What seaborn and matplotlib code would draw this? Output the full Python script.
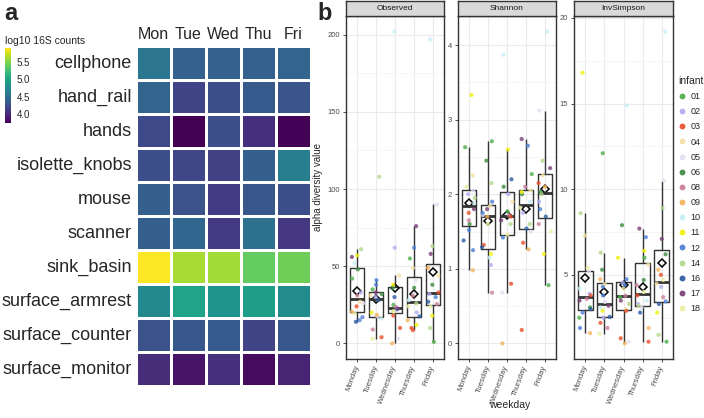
import numpy as np
import pandas as pd
import matplotlib.pyplot as plt
import seaborn as sns
from matplotlib.lines import Line2D
from matplotlib.ticker import AutoMinorLocator

W, H = 704, 418

# panel a: log10 16S counts per surface and weekday
days_short = ["Mon", "Tue", "Wed", "Thu", "Fri"]
surfaces = ["cellphone", "hand_rail", "hands", "isolette_knobs", "mouse",
            "scanner", "sink_basin", "surface_armrest", "surface_counter",
            "surface_monitor"]
log_counts = [
    [4.58, 4.41, 4.41, 4.41, 4.43],
    [4.43, 4.18, 4.26, 4.35, 4.31],
    [4.22, 3.75, 4.26, 4.05, 3.76],
    [4.26, 4.20, 4.16, 4.39, 4.65],
    [4.39, 4.29, 4.11, 4.33, 4.26],
    [4.39, 4.46, 4.11, 4.54, 4.09],
    [5.89, 5.61, 5.59, 5.38, 5.42],
    [4.76, 4.99, 4.86, 4.93, 4.78],
    [4.29, 4.33, 4.35, 4.18, 4.33],
    [4.01, 3.86, 4.05, 3.81, 3.96],
]

# panel b: alpha diversity per sample (infant order + one extra sample per day)
weekdays = ["Monday", "Tuesday", "Wednesday", "Thursday", "Friday"]
infants = ["01", "02", "03", "04", "05", "06", "08", "09", "10", "11",
           "12", "14", "16", "17", "18"]
extra_infant = ["12", "12", "03", "03", "14"]
infant_colors = ["#4daf4a", "#b3acf2", "#e8502a", "#f5e0a3", "#e4def2",
                 "#3d8c40", "#c97d9a", "#f3b45c", "#c6eef4", "#f2f20c",
                 "#4d7fd6", "#b3d68a", "#2c5ba3", "#7a3f78", "#ecefa2"]

observed = {
    "Monday":    [42, 33, 24, 27, 26, 48, 31, 20.5, 52, 57, 15, 61, 14, 56, 19.5, 17],
    "Tuesday":   [35, 30, 4, 31, 17.5, 32, 9, 18.5, 16, 20, 41, 108, 28, 33, 3, 38],
    "Wednesday": [25, 62, 18, 44, 3, 36, 23.5, 0, 202, 38, 22, 21, 30, 22.5, 20.5, 10],
    "Thursday":  [55, 20, 8.6, 49, 41, 36, 31, 15, 28, 12, 62, 26, 17.5, 76, 24, 10],
    "Friday":    [1, 32, 33, 44, 90, 38, 25.5, 49, 197, 18, 30, 63, 27, 58, 24, 10],
}
shannon = {
    "Monday":    [2.63, 2.0, 1.75, 2.25, 2.05, 1.6, 1.65, 0.98, 1.88, 3.33, 1.25, 1.95, 1.38, 1.8, 2.1, 1.52],
    "Tuesday":   [2.71, 1.05, 1.32, 1.84, 1.72, 2.45, 0.68, 1.7, 1.15, 1.2, 1.9, 2.15, 1.29, 1.8, 1.6, 1.75],
    "Wednesday": [1.77, 2.0, 0.8, 1.9, 0.68, 2.1, 1.72, 0.0, 3.87, 2.6, 1.42, 1.6, 2.2, 1.65, 1.46, 1.7],
    "Thursday":  [2.27, 1.75, 0.18, 2.05, 1.5, 2.0, 2.1, 1.26, 1.9, 2.03, 2.65, 1.6, 1.54, 2.74, 1.82, 1.35],
    "Friday":    [0.78, 1.9, 2.15, 2.25, 3.12, 2.03, 1.6, 2.1, 4.18, 1.2, 1.8, 2.45, 1.7, 2.35, 1.5, 2.0],
}
invsimpson = {
    "Monday":    [2.5, 3.9, 3.8, 7.3, 5.2, 3.1, 3.6, 1.6, 4.2, 16.8, 2.8, 8.6, 3.0, 3.5, 5.4, 1.9],
    "Tuesday":   [12.1, 2.5, 2.2, 4.45, 3.42, 5.3, 1.9, 4.75, 3.1, 2.9, 3.8, 6.3, 2.55, 3.2, 1.57, 4.3],
    "Wednesday": [3.7, 4.55, 1.3, 4.2, 1.1, 7.9, 3.78, 1.0, 14.9, 6.0, 4.75, 3.3, 4.4, 3.5, 3.0, 2.9],
    "Thursday":  [6.0, 3.3, 1.1, 5.6, 3.1, 4.7, 4.4, 1.9, 3.5, 6.4, 7.2, 3.2, 2.8, 7.7, 4.0, 3.8],
    "Friday":    [1.1, 4.3, 5.0, 4.5, 10.5, 6.2, 3.7, 5.3, 19.2, 2.8, 3.45, 8.9, 3.3, 7.1, 4.7, 1.5],
}
metrics = ["Observed", "Shannon", "InvSimpson"]
metric_ticks = [[0, 50, 100, 150, 200], [0, 1, 2, 3, 4], [5, 10, 15, 20]]
metric_x = [(346, 444), (458, 556), (574, 673)]

sns.set_style("white")
plt.rcParams["font.family"] = ["Liberation Sans", "DejaVu Sans"]

fig = plt.figure(figsize=(W / 100, H / 100), dpi=100)


def px(x0, y0, x1, y1):
    """pixel box -> figure fraction rect"""
    return [x0 / W, 1 - y1 / H, (x1 - x0) / W, (y1 - y0) / H]


# ---------------- panel a
heat = pd.DataFrame(log_counts, index=surfaces, columns=days_short)
ax_h = fig.add_axes(px(136, 46, 311, 386))
cax = fig.add_axes(px(5, 48, 11, 123))
sns.heatmap(heat, ax=ax_h, cbar_ax=cax, cmap="viridis", vmin=3.75, vmax=5.89,
            linewidths=0.8, linecolor="white")
ax_h.xaxis.tick_top()
ax_h.tick_params(length=0, pad=3)
ax_h.set_xticklabels(days_short, fontsize=11.5, rotation=0)
ax_h.set_yticklabels(surfaces, fontsize=13, rotation=0)
ax_h.set_xlabel("")
ax_h.set_ylabel("")

cax.set_yticks([4.0, 4.5, 5.0, 5.5])
cax.set_yticklabels(["4.0", "4.5", "5.0", "5.5"])
cax.tick_params(direction="in", color="white", length=2, width=0.8,
                labelsize=7, pad=4)
ax_h.collections[0].colorbar.outline.set_visible(False)
fig.text(5 / W, 1 - 41 / H, "log10 16S counts", fontsize=7.5, va="center")
fig.text(4 / W, 1 - 14 / H, "a", fontsize=17, fontweight="bold", va="center")

# ---------------- panel b
rows = []
for i, day in enumerate(weekdays):
    ids = infants + [extra_infant[i]]
    for metric, table in zip(metrics, [observed, shannon, invsimpson]):
        for inf, v in zip(ids, table[day]):
            rows.append((metric, day, inf, v))
df = pd.DataFrame(rows, columns=["metric", "weekday", "infant", "value"])
pal = dict(zip(infants, infant_colors))

np.random.seed(7)
for metric, ticks, (x0, x1) in zip(metrics, metric_ticks, metric_x):
    ax = fig.add_axes(px(x0, 16, x1, 359))
    sub = df[df.metric == metric]
    sns.stripplot(data=sub, x="weekday", y="value", hue="infant",
                  order=weekdays, hue_order=infants, palette=pal, jitter=0.33,
                  size=3, alpha=0.8, linewidth=0, legend=False, ax=ax)
    sns.boxplot(data=sub, x="weekday", y="value", order=weekdays, width=0.75,
                showfliers=False, showcaps=False, fill=False, color="#333333",
                linewidth=1.0, medianprops=dict(linewidth=2.0, color="#333333"),
                ax=ax)
    sns.pointplot(data=sub, x="weekday", y="value", order=weekdays,
                  estimator="mean", errorbar=None, linestyle="none",
                  markers="D", color="black", markerfacecolor="none",
                  markersize=4.5, markeredgewidth=1.1, ax=ax)

    lo, hi = sub.value.min(), sub.value.max()
    pad = 0.05 * (hi - lo)
    ax.set_ylim(lo - pad, hi + pad)
    ax.set_xlim(-0.6, 4.6)
    ax.set_yticks(ticks)
    ax.yaxis.set_minor_locator(AutoMinorLocator(2))
    ax.grid(True, which="major", color="#ebebeb", lw=0.8)
    ax.grid(True, which="minor", axis="y", color="#f3f3f3", lw=0.5)
    ax.set_axisbelow(True)
    for s in ax.spines.values():
        s.set_color("#333333")
        s.set_linewidth(1.0)
    ax.tick_params(which="major", labelsize=5.5, labelcolor="#4d4d4d",
                   color="#333333", length=2.5, width=0.6, pad=2,
                   left=True, bottom=True)
    ax.tick_params(which="minor", length=0)
    ax.set_xticks(range(len(weekdays)))
    ax.set_xticklabels(weekdays, rotation=70, ha="right",
                       rotation_mode="anchor", va="center")
    ax.set_xlabel("")
    ax.set_ylabel("")

    strip = fig.add_axes(px(x0, 1, x1, 16))
    strip.set_facecolor("#d9d9d9")
    strip.set_xticks([])
    strip.set_yticks([])
    for s in strip.spines.values():
        s.set_color("#333333")
        s.set_linewidth(1.0)
    strip.text(0.5, 0.5, metric, fontsize=6, color="#1a1a1a",
               ha="center", va="center", transform=strip.transAxes)

fig.text(318 / W, 1 - 187 / H, "alpha diversity value", fontsize=7,
         rotation=90, ha="center", va="center")
fig.text(510 / W, 1 - 405 / H, "weekday", fontsize=7.5, ha="center",
         va="center")
fig.text(317 / W, 1 - 14 / H, "b", fontsize=17, fontweight="bold",
         va="center")

handles = [Line2D([], [], marker="o", ls="", color=c, markersize=3.2,
                  alpha=0.9) for c in infant_colors]
leg = fig.legend(handles, infants, title="infant", loc="upper left",
                 bbox_to_anchor=(678 / W, 1 - 76 / H), frameon=False,
                 fontsize=6.5, title_fontsize=7.5, handlelength=0.8,
                 handletextpad=0.6, labelspacing=0.68, borderaxespad=0,
                 borderpad=0)
leg._legend_box.align = "left"

fig.savefig("out.png", dpi=100)
